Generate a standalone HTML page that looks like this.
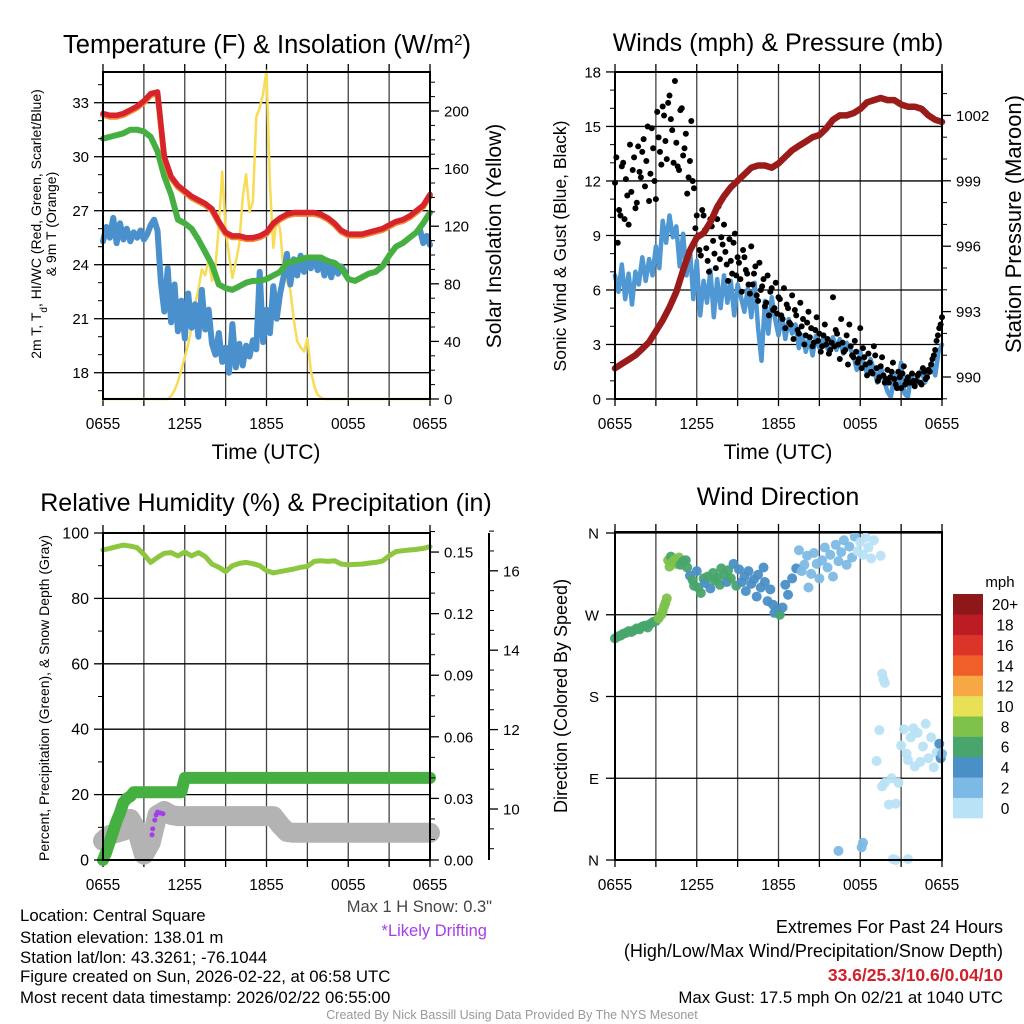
<!DOCTYPE html>
<html><head><meta charset="utf-8"><title>Station Meteogram</title>
<style>
html,body{margin:0;padding:0;background:#fff;}
svg{display:block;font-family:"Liberation Sans",Arial,sans-serif;}
</style></head>
<body>
<svg id="fig" width="1024" height="1024" viewBox="0 0 1024 1024" xmlns="http://www.w3.org/2000/svg">
<rect width="1024" height="1024" fill="#fff"/>
<g id="g1"></g>
<g id="g2"></g>
<g id="g3"></g>
<g id="g4"></g>

<text x="267" y="53" font-size="25.5" text-anchor="middle">Temperature (F) &amp; Insolation (W/m<tspan baseline-shift="super" font-size="15">2</tspan>)</text>
<text x="778" y="51" font-size="25" text-anchor="middle">Winds (mph) &amp; Pressure (mb)</text>
<text x="266" y="511" font-size="25" text-anchor="middle">Relative Humidity (%) &amp; Precipitation (in)</text>
<text x="778" y="505" font-size="25" text-anchor="middle">Wind Direction</text>

<text x="266" y="459" font-size="21" text-anchor="middle">Time (UTC)</text>
<text x="778" y="459" font-size="21" text-anchor="middle">Time (UTC)</text>

<text transform="translate(41,224) rotate(-90)" font-size="14" text-anchor="middle">2m T, T<tspan baseline-shift="sub" font-size="10">d</tspan>, HI/WC (Red, Green, Scarlet/Blue)</text>
<text transform="translate(56,224) rotate(-90)" font-size="14" text-anchor="middle">&amp; 9m T (Orange)</text>
<text transform="translate(501,236) rotate(-90)" font-size="21" text-anchor="middle">Solar Insolation (Yellow)</text>
<text transform="translate(566,246) rotate(-90)" font-size="17.5" text-anchor="middle">Sonic Wind &amp; Gust (Blue, Black)</text>
<text transform="translate(1021,224) rotate(-90)" font-size="22" text-anchor="middle">Station Pressure (Maroon)</text>
<text transform="translate(49,698) rotate(-90)" font-size="14" text-anchor="middle">Percent, Precipitation (Green), &amp; Snow Depth (Gray)</text>
<text transform="translate(567,696) rotate(-90)" font-size="18" text-anchor="middle">Direction (Colored By Speed)</text>

<text x="492" y="912" font-size="16.5" fill="#444" text-anchor="end">Max 1 H Snow: 0.3"</text>
<text x="487" y="936" font-size="16.5" fill="#a63de8" text-anchor="end">*Likely Drifting</text>

<g font-size="16.8">
<text x="20" y="921">Location: Central Square</text>
<text x="20" y="943">Station elevation: 138.01 m</text>
<text x="20" y="963">Station lat/lon: 43.3261; -76.1044</text>
<text x="20" y="982">Figure created on Sun, 2026-02-22, at 06:58 UTC</text>
<text x="20" y="1003">Most recent data timestamp: 2026/02/22 06:55:00</text>
</g>
<g text-anchor="end">
<text x="1003" y="933" font-size="18">Extremes For Past 24 Hours</text>
<text x="1003" y="957" font-size="18">(High/Low/Max Wind/Precipitation/Snow Depth)</text>
<text x="1003" y="981" font-size="17.5" font-weight="bold" fill="#d0202a">33.6/25.3/10.6/0.04/10</text>
<text x="1003" y="1003" font-size="16.8">Max Gust: 17.5 mph On 02/21 at 1040 UTC</text>
</g>
<text x="512" y="1019" font-size="12.5" fill="#999" text-anchor="middle">Created By Nick Bassill Using Data Provided By The NYS Mesonet</text>
<text x="1000" y="587" font-size="15" text-anchor="middle">mph</text>
</svg>

<script>
// ---------- DATA ----------
const xTickLabels = ["0655","1255","1855","0055","0655"];
const tempTicks = [18,21,24,27,30,33];
const solarTicks = [0,40,80,120,160,200];
const windTicks = [0,3,6,9,12,15,18];
const presTicks = [990,993,996,999,1002];
const rhTicks = [0,20,40,60,80,100];
const precipTicks = [0.00,0.03,0.06,0.09,0.12,0.15];
const snowTicks = [10,12,14,16];
const dirTickLabels = ["N","E","S","W","N"];
const dirTicks = [0,90,180,270,360];
const speedBinLabels = ["0","2","4","6","8","10","12","14","16","18","20+"];

// half-hour series (49 values, h=0..24)
const tempRed = [32.4,32.3,32.3,32.4,32.6,32.8,33.1,33.5,33.6,30.0,28.9,28.4,28.1,27.8,27.6,27.4,27.1,26.4,25.8,25.6,25.6,25.5,25.5,25.6,25.8,26.3,26.6,26.8,26.9,26.9,26.9,26.9,26.8,26.6,26.3,25.9,25.7,25.7,25.7,25.8,25.9,26.0,26.2,26.4,26.5,26.7,27.0,27.3,27.9];
const dewGreen = [31.0,31.1,31.2,31.3,31.5,31.5,31.4,31.1,30.3,28.9,27.9,26.5,26.3,26.0,25.4,24.7,24.0,22.9,22.7,22.6,22.8,23.0,23.1,23.1,23.2,23.4,23.6,24.1,24.2,24.3,24.4,24.4,24.4,24.2,24.1,23.8,23.2,23.1,23.3,23.5,23.6,23.9,24.5,25.0,25.2,25.5,25.8,26.3,26.9];
const pressure = [990.4,990.6,990.8,991.0,991.3,991.6,992.1,992.6,993.2,993.9,994.9,995.8,996.4,996.6,997.1,997.8,998.3,998.7,999.0,999.3,999.6,999.7,999.7,999.6,999.8,1000.1,1000.4,1000.6,1000.8,1001.0,1001.1,1001.4,1001.8,1002.0,1002.0,1002.1,1002.3,1002.6,1002.7,1002.8,1002.7,1002.7,1002.5,1002.4,1002.4,1002.3,1002.0,1001.8,1001.7];
const rh = [94.8,95.3,95.8,96.3,96.0,95.5,93.5,91.0,92.5,93.8,94.0,93.0,94.2,93.0,94.0,92.8,90.5,89.5,88.2,90.0,90.7,91.0,90.6,90.0,88.5,87.8,88.2,88.6,89.0,89.5,89.8,91.3,91.5,91.3,91.5,90.5,90.3,90.4,90.5,90.8,91.0,91.4,93.0,94.3,94.6,94.8,95.0,95.3,95.8];
const snowDepth = [9.2,9.35,9.4,9.45,9.75,9.45,8.85,9.15,9.85,9.95,9.85,9.82,9.82,9.82,9.82,9.82,9.82,9.82,9.82,9.82,9.82,9.82,9.82,9.82,9.82,9.82,9.6,9.42,9.4,9.4,9.4,9.4,9.4,9.4,9.4,9.4,9.4,9.4,9.4,9.4,9.4,9.4,9.4,9.4,9.4,9.4,9.4,9.4,9.4];

// quarter-hour series (97 values)
const windChill = [25.3,26.1,25.5,26.6,25.2,26.3,25.4,26.0,25.3,25.8,25.5,25.9,25.4,25.7,26.2,26.5,25.9,
 23.0,21.4,23.8,20.8,22.9,20.3,22.0,19.9,22.4,20.5,21.8,20.0,22.6,20.4,21.5,19.6,
 19.0,20.2,18.6,19.4,18.0,20.7,18.3,19.6,18.4,19.5,18.9,19.8,
 19.3,23.6,19.7,21.5,20.2,22.8,21.0,22.4,
 23.3,24.6,22.9,24.3,23.4,24.5,23.6,24.2,23.8,24.4,23.7,24.3,
 23.4,24.2,23.3,24.1,23.5,23.9,23.6,
 null,null,null,null,null,null,null,null,null,null,null,null,null,null,null,null,null,null,null,null,null,
 26.0,25.2,25.6,25.1];
const solar = [0,0,0,0,0,0,0,0,0,0,0,0,0,0,0,0,0,0,0,0,
 2,6,12,20,29,38,50,66,76,90,86,97,82,92,120,158,118,100,84,95,108,140,156,130,137,196,202,212,228,150,105,125,118,90,82,76,55,40,36,33,42,20,9,3,1,
 0,0,0,0,0,0,0,0,0,0,0,0,0,0,0,0,0,0,0,0,0,0,0,0,0,0,0,0,0,0,0,0];
const windSpeed = [6.8,5.9,7.4,5.5,6.9,5.2,7.0,6.3,7.8,6.5,7.7,6.8,8.4,7.2,9.8,8.6,10.1,
 8.9,9.5,7.3,9.1,6.8,8.3,5.5,7.6,4.6,6.5,5.3,7.1,4.5,6.6,5.0,6.8,
 5.3,6.5,4.6,6.3,5.6,4.8,6.1,4.5,6.4,3.9,2.1,5.4,3.6,5.6,4.4,3.5,
 4.6,3.3,4.4,3.6,4.1,2.8,3.5,2.6,3.4,2.4,3.5,2.8,3.3,2.9,2.6,3.4,
 2.7,3.3,2.5,3.1,2.8,2.4,1.6,2.6,1.9,1.4,2.2,1.6,0.9,1.8,1.0,0.4,
 0.1,1.4,0.6,2.0,0.3,0.1,1.4,0.7,1.2,1.6,0.9,1.5,2.0,1.3,2.6,3.0];
const precip = [0,0.004,0.009,0.014,0.019,0.023,0.028,0.030,0.031,0.033,0.033,0.033,0.033,0.033,0.033,0.033,0.033,0.033,0.033,0.033,0.033,0.033,0.033,0.033,
 0.040,0.040,0.040,0.040,0.040,0.040,0.040,0.040,0.040,0.040,0.040,0.040,0.040,0.040,0.040,0.040,0.040,0.040,0.040,0.040,0.040,0.040,0.040,0.040,0.040,0.040,0.040,0.040,0.040,0.040,0.040,0.040,0.040,0.040,0.040,0.040,0.040,0.040,0.040,0.040,0.040,0.040,0.040,0.040,0.040,0.040,0.040,0.040,0.040,0.040,0.040,0.040,0.040,0.040,0.040,0.040,0.040,0.040,0.040,0.040,0.040,0.040,0.040,0.040,0.040,0.040,0.040,0.040,0.040,0.040,0.040,0.040,0.040];

// gusts every 0.2 h from h=0 (121 values)
const gusts = [11.9,8.6,10.1,13.0,12.1,9.6,11.4,13.3,10.8,12.5,13.6,
 11.7,15.0,12.4,13.8,11.0,14.4,12.9,15.6,13.2,16.7,
 14.8,17.5,12.8,15.9,13.4,14.6,12.2,15.3,11.6,10.1,
 8.2,10.4,9.3,7.6,9.9,8.7,7.2,10.6,8.9,9.6,
 7.4,8.8,6.9,9.1,7.8,6.6,8.2,7.1,6.3,8.4,
 6.9,5.7,7.5,6.2,5.1,6.8,5.9,4.9,6.4,5.6,
 4.6,6.1,5.2,4.2,5.7,4.9,3.8,5.3,4.4,3.5,
 4.8,3.9,3.1,4.5,3.6,2.9,4.1,3.3,2.7,5.6,
 3.8,3.0,4.4,2.6,3.5,4.1,2.4,3.2,2.0,3.9,
 2.8,1.9,2.5,1.5,2.9,1.7,1.2,2.3,0.9,1.6,
 1.2,2.0,0.8,1.5,0.6,1.8,1.0,0.9,1.4,0.7,
 1.3,0.9,1.7,1.1,1.6,1.9,2.4,3.2,3.9,4.5];
// extra gusts every 0.2 h from h=0.1 (120 values)
const gusts2 = [13.3,10.4,12.8,9.9,11.2,14.0,12.6,10.5,13.9,12.2,
 14.3,13.1,10.9,14.9,12.0,15.8,13.6,16.1,14.2,16.3,
 15.4,13.0,14.1,12.6,16.0,13.8,11.3,13.1,12.0,9.4,
 9.0,7.9,10.1,8.3,7.0,9.5,8.0,9.9,7.7,8.5,
 8.1,6.5,7.6,8.6,6.8,7.5,5.9,7.8,6.9,5.8,
 6.3,7.3,5.4,6.0,6.6,5.3,4.6,6.1,5.0,4.7,
 5.5,4.4,3.9,5.0,4.1,3.3,4.6,3.6,4.0,3.0,
 4.2,3.4,2.9,3.8,3.2,2.6,3.5,3.0,2.5,3.1,
 2.9,3.6,2.2,3.1,2.7,1.9,2.9,2.3,2.6,2.2,
 1.7,2.3,1.3,2.0,1.4,2.4,1.0,1.8,1.3,1.1,
 0.9,1.5,1.1,0.6,1.2,1.4,0.8,1.2,0.9,1.0,
 1.0,1.4,0.8,1.5,1.2,1.5,2.2,2.7,3.5,4.1];

const driftHours = [3.6,3.65,3.8,3.9,4.0,4.2,4.4];
const driftDepth = [9.35,9.5,9.72,9.85,9.92,9.9,9.88];

const dirHours = [0,0.2,0.4,0.6,0.8,1.0,1.2,1.4,1.6,1.8,2.0,2.2,2.4,2.6,2.8,3.0,3.2,3.4,3.5,3.6,3.7,3.8,
 3.9,4.0,4.1,4.2,4.4,4.5,4.7,4.8,5.0,5.2,5.3,
 5.5,5.7,5.8,6.0,6.1,6.3,6.5,6.6,6.8,7.0,7.2,7.3,7.5,7.7,7.8,8.0,8.2,8.3,8.5,8.7,8.9,
 9.1,9.3,9.5,9.6,9.8,10.0,10.2,10.4,10.5,10.7,10.9,11.0,11.2,11.4,11.6,11.7,11.9,12.1,12.3,12.5,12.7,13.0,13.3,
 13.5,13.7,13.9,14.1,14.2,14.4,14.6,14.8,15.0,15.2,15.4,15.6,15.8,16.0,16.2,16.4,16.6,16.8,17.0,17.2,17.4,17.6,17.8,18.0,18.2,18.4,18.6,18.8,19.0,19.5,
 16.4,18.1,18.2,19.6,19.7,19.8,19.4,
 19.2,19.6,19.8,20.1,20.3,20.6,20.8,21.0,21.2,21.4,21.5,21.7,21.9,22.0,22.2,22.4,22.6,22.8,23.0,23.2,23.4,23.6,23.8,23.9,24.0,
 20.4,20.6,21.5];
const dirDegrees = [244,246,247,249,250,252,251,253,255,254,257,258,256,260,262,263,266,270,274,279,283,288,
 330,323,334,328,331,326,333,325,329,330,322,
 313,308,302,318,300,294,310,305,312,299,316,308,311,303,321,314,306,319,310,326,302,
 320,306,312,296,318,304,309,290,314,300,322,306,285,298,281,272,276,270,278,303,292,310,321,
 341,318,325,335,300,315,338,326,310,330,344,322,336,312,347,329,339,352,325,345,333,356,340,350,336,355,344,332,352,335,
 10,14,19,205,199,195,143,
 109,81,85,61,90,62,85,126,144,117,110,135,145,103,140,108,125,150,112,135,102,118,128,112,117,
 1,0,1];
const dirSpeeds = [7,6.5,7.5,6,7.2,7.8,6.8,7.4,7.9,6.6,7.3,7.7,7.1,7.6,7.9,7.2,9.2,9.5,9.8,9.1,8.3,8.5,
 8.4,8.8,7.9,9.6,8.2,8.6,8.1,7.4,6.8,7.2,6.4,
 4.8,6.2,6.6,5.6,7.1,6.4,6.9,5.3,6.7,5.9,6.3,7.0,6.8,6.1,6.5,6.9,4.7,6.6,7.2,4.5,6.1,
 5.1,4.7,5.4,4.3,4.9,5.2,4.6,4.4,5.0,4.8,5.3,4.5,4.2,4.7,4.1,5.0,4.4,6.2,4.6,4.3,4.9,4.1,4.4,
 3.2,2.5,3.0,2.8,3.1,2.6,3.4,2.9,3.3,2.4,3.1,2.7,3.5,2.3,3.0,2.6,3.3,2.8,3.2,2.5,2.9,2.1,1.5,1.8,1.2,1.6,1.4,1.1,1.7,0.8,
 3.4,3.2,2.8,0.6,0.9,0.5,1.0,
 0.7,1.1,0.4,0.9,1.2,0.8,0.6,1.3,0.9,0.5,1.1,0.8,1.4,1.6,0.7,0.9,1.2,1.5,1.8,1.0,1.3,1.9,4.2,4.5,3.8,
 0.3,0.2,0.4];
</script>
<script>
const NS = "http://www.w3.org/2000/svg";
const PX_PER_H = 327/24;
function mk(tag, attrs, parent){
  const e = document.createElementNS(NS, tag);
  for (const k in attrs) e.setAttribute(k, attrs[k]);
  parent.appendChild(e);
  return e;
}
function xAxisFn(x0){ return h => x0 + h*PX_PER_H; }

const P1 = {x0:103,x1:430,y0:72,y1:399};
const P2 = {x0:615,x1:942,y0:72,y1:399};
const P3 = {x0:103,x1:430,y0:533,y1:860};
const P4 = {x0:615,x1:942,y0:532,y1:860};
const x1f = xAxisFn(P1.x0), x2f = xAxisFn(P2.x0), x3f = xAxisFn(P3.x0), x4f = xAxisFn(P4.x0);
const yTemp = v => 102.7 + (33 - v)*18;
const ySolar = v => 399 - v*1.44;
const yWind = v => 399 - v*18.17;
const yPres = v => 377 - (v - 990)*21.8;
const yRH = v => 860 - v*3.27;
const yPrecip = v => 860 - v*2053;
const ySnow = v => 809 - (v - 10)*39.7;
const yDir = v => 860 - v*327/360;

function frame(g, P, name){
  for (let h=3; h<24; h+=3){
    const x = P.x0 + h*PX_PER_H;
    const l = mk('line',{x1:x,y1:P.y0,x2:x,y2:P.y1,stroke:'#444','stroke-width':1.3},g);
    
    
  }
  for (let h=0; h<=24; h+=3){
    const x = P.x0 + h*PX_PER_H;
    const t1 = mk('line',{x1:x,y1:P.y1,x2:x,y2:P.y1+7,stroke:'#000','stroke-width':1.3},g);
    
    
    const t2 = mk('line',{x1:x,y1:P.y0,x2:x,y2:P.y0-8,stroke:'#000','stroke-width':1.3},g);
    
    
  }
  xTickLabels.forEach((lab,i)=>{
    const t = mk('text',{x:P.x0 + i*6*PX_PER_H, y:P.y1+30,'font-size':15.5,'text-anchor':'middle'},g);
    t.textContent = lab;
    
    
  });
}
function hGrid(g, P, vals, yf, name){
  vals.forEach(v=>{
    const y = yf(v);
    const l = mk('line',{x1:P.x0,y1:y,x2:P.x1,y2:y,stroke:'#000','stroke-width':1.3},g);
    
    
  });
}
function yAxis(g, x, side, vals, minors, yf, fmt, name, fs){
  vals.forEach(v=>{
    const y = yf(v);
    const l = mk('line',{x1:x,y1:y,x2:x+side*9,y2:y,stroke:'#000','stroke-width':1.3},g);
    
    
    const t = mk('text',{x:x+side*14,y:y+5.5,'font-size':fs||15,'text-anchor':side<0?'end':'start'},g);
    t.textContent = fmt(v);
    
    
  });
  minors.forEach(v=>{
    const y = yf(v);
    const l = mk('line',{x1:x,y1:y,x2:x+side*5,y2:y,stroke:'#000','stroke-width':1},g);
    
    
  });
}
function border(g,P,name){
  const r = mk('rect',{x:P.x0,y:P.y0,width:P.x1-P.x0,height:P.y1-P.y0,fill:'none',stroke:'#000','stroke-width':2},g);
  
  
}
function series(g, vals, step, xf, yf, color, w, name){
  let d = '', pen = false;
  vals.forEach((v,i)=>{
    if (v === null){ pen = false; return; }
    d += (pen?'L':'M') + xf(i*step).toFixed(1) + ',' + yf(v).toFixed(1);
    pen = true;
  });
  const p = mk('path',{d:d,fill:'none',stroke:color,'stroke-width':w,'stroke-linejoin':'round','stroke-linecap':'round'},g);
  
  
  return p;
}
function range(a,b,s){const r=[];for(let v=a;v<=b+1e-9;v+=s)r.push(+v.toFixed(3));return r;}

// ---------- Panel 1 ----------
const g1 = document.getElementById('g1');
frame(g1,P1,'temp');
hGrid(g1,P1,tempTicks,yTemp,'temp');
series(g1, solar, 0.25, x1f, ySolar, '#f8dc55', 2.5, 'solar-insolation-line');
series(g1, windChill, 0.25, x1f, yTemp, '#4a90cc', 6, 'wind-chill-line');
series(g1, dewGreen, 0.5, x1f, yTemp, '#45b041', 6, 'dewpoint-line');
series(g1, tempRed.map(v=>v-0.08), 0.5, x1f, yTemp, '#f08a30', 6, 'temp-9m-line');
series(g1, tempRed, 0.5, x1f, yTemp, '#d7242b', 5.5, 'temperature-2m-line');
border(g1,P1,'temp');
yAxis(g1,P1.x0,-1,tempTicks,range(17,34,1).filter(v=>v%3),yTemp,v=>v,'temp-y');
yAxis(g1,P1.x1,1,solarTicks,range(10,220,10).filter(v=>v%40),ySolar,v=>v,'solar-y');

// ---------- Panel 2 ----------
const g2 = document.getElementById('g2');
frame(g2,P2,'wind');
hGrid(g2,P2,windTicks,yWind,'wind');
series(g2, windSpeed, 0.25, x2f, yWind, '#4f98d3', 4.5, 'sonic-wind-line');
gusts.forEach((v,i)=>{
  const c = mk('circle',{cx:x2f(i*0.2),cy:yWind(v),r:3,fill:'#000'},g2);
  
  
});
gusts2.forEach((v,i)=>{
  const c = mk('circle',{cx:x2f(0.1+i*0.2),cy:yWind(v),r:3,fill:'#000'},g2);
  
  
});
series(g2, pressure, 0.5, x2f, yPres, '#9b1b1b', 6.5, 'pressure-line');
border(g2,P2,'wind');
yAxis(g2,P2.x0,-1,windTicks,range(1,17,1).filter(v=>v%3),yWind,v=>v,'wind-y');
yAxis(g2,P2.x1,1,presTicks,range(989,1003,1).filter(v=>(v-990)%3),yPres,v=>v,'pressure-y');

// ---------- Panel 3 ----------
const g3 = document.getElementById('g3');
frame(g3,P3,'rh');
hGrid(g3,P3,rhTicks,yRH,'rh');
series(g3, snowDepth, 0.5, x3f, ySnow, '#b3b3b3', 20, 'snow-depth-line');
series(g3, precip, 0.25, x3f, yPrecip, '#45b041', 12, 'precipitation-line');
series(g3, rh, 0.5, x3f, yRH, '#8dc63f', 5, 'relative-humidity-line');
driftHours.forEach((h,i)=>{
  const c = mk('circle',{cx:x3f(h),cy:ySnow(driftDepth[i]),r:2.5,fill:'#a63de8'},g3);
  
  
});
border(g3,P3,'rh');
yAxis(g3,P3.x0,-1,rhTicks,range(10,90,20),yRH,v=>v,'rh-y',16);
yAxis(g3,P3.x1,1,precipTicks,range(0.01,0.16,0.01).filter(v=>Math.round(v*100)%3),yPrecip,v=>v.toFixed(2),'precip-y');
const sAx = mk('line',{x1:489,y1:533,x2:489,y2:860,stroke:'#000','stroke-width':2},g3);


yAxis(g3,489,1,snowTicks,[9,11,13,15,17].concat(range(9.5,16.5,1)),ySnow,v=>v,'snow-y');

// ---------- Panel 4 ----------
const g4 = document.getElementById('g4');
const speedColors = ['#b8e2f6','#7db9e5','#4a8fc6','#48a56b','#7ec24c','#e8e055','#f6a844','#ef5f2a','#dc3428','#bd1c24','#8e1719'];
frame(g4,P4,'dir');
hGrid(g4,P4,dirTicks,yDir,'dir');
dirHours.forEach((h,i)=>{
  const bin = Math.min(10, Math.floor(dirSpeeds[i]/2));
  const c = mk('circle',{cx:x4f(h),cy:yDir(dirDegrees[i]),r:5,fill:speedColors[bin],'fill-opacity':0.95},g4);
  
  
});
border(g4,P4,'dir');
dirTicks.forEach((v,i)=>{
  const y = yDir(v);
  const l = mk('line',{x1:P4.x0,y1:y,x2:P4.x0-9,y2:y,stroke:'#000','stroke-width':1.3},g4);
  
  
  const t = mk('text',{x:P4.x0-16,y:y+5.5,'font-size':15,'text-anchor':'end'},g4);
  t.textContent = dirTickLabels[i];
  
  
});
speedBinLabels.forEach((lab,i)=>{
  const cellH = 224/11;
  const y = 818 - (i+1)*cellH;
  const r = mk('rect',{x:953,y:y,width:30,height:cellH+0.3,fill:speedColors[i]},g4);
  
  
  const t = mk('text',{x:1005,y:y+cellH/2+6,'font-size':15.5,'text-anchor':'middle'},g4);
  t.textContent = lab;
  
  
});
</script>
</body></html>
